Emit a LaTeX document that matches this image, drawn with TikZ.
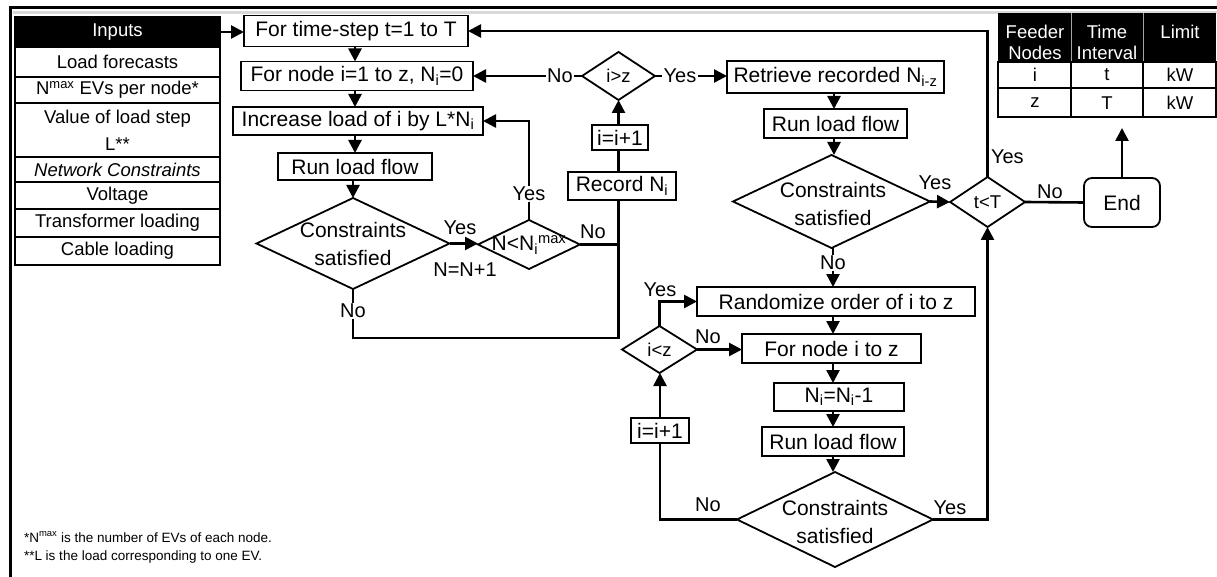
\documentclass[tikz,border=0pt]{standalone}
\usepackage{fontspec}
\setmainfont{Liberation Sans}
\usetikzlibrary{arrows.meta,shapes.geometric}

\begin{document}
\begin{tikzpicture}[x=1pt,y=-1pt,
  every node/.style={inner sep=0pt, outer sep=0pt},
  box/.style={draw, line width=1.8pt, fill=white, font=\fontsize{21}{26}\selectfont, align=center},
  dia/.style={diamond, draw, line width=1.8pt, fill=white},
  dtext/.style={font=\fontsize{21}{28}\selectfont, align=center},
  stext/.style={font=\fontsize{18.5}{22}\selectfont, align=center},
  lbl/.style={font=\fontsize{20}{24}\selectfont},
  onln/.style={lbl, fill=white, inner sep=1.5pt},
  conn/.style={line width=2.6pt},
  arr/.style={conn, -{Triangle[length=13pt,width=13pt]}},
  cell/.style={draw, line width=1.8pt, fill=white, font=\fontsize{18.5}{27}\selectfont, align=center, minimum width=205pt},
]
\useasboundingbox (0,0) rectangle (1217,577);

% page frame
\draw[line width=3.5pt, gray!30] (13,12.5) -- (1217,12.5);
\draw[line width=3pt] (10.5,577) -- (10.5,7.5) -- (1217,7.5);

% inputs list
\node[cell, fill=black, text=white, minimum height=30pt] (inh) at (117.5,32) {Inputs};
\node[cell, minimum height=30pt] (in1) at (117.5,62) {Load forecasts};
\node[cell, minimum height=26pt] (in2) at (117.5,90) {N\textsuperscript{max} EVs per node*};
\node[cell, minimum height=54pt] (in3) at (117.5,130) {Value of load step\\L**};
\node[cell, minimum height=25pt] (in4) at (117.5,169.5) {\itshape Network Constraints};
\node[cell, minimum height=27pt] (in5) at (117.5,195.5) {Voltage};
\node[cell, minimum height=28pt] (in6) at (117.5,223) {Transformer loading};
\node[cell, minimum height=28pt] (in7) at (117.5,251) {Cable loading};

% result table
\fill (998,13) rectangle (1216,62);
\draw[gray!70, line width=0.8pt] (1071,13) -- (1071,62) (1143,13) -- (1143,62);
\draw[line width=1.8pt] (998,62) rectangle (1216,117) (998,88) -- (1216,88)
  (1071,62) -- (1071,117) (1143,62) -- (1143,117);
\node[stext, text=white, font=\fontsize{18.5}{21}\selectfont] (th1) at (1035,42.5) {Feeder\\Nodes};
\node[stext, text=white, font=\fontsize{18.5}{21}\selectfont] (th2) at (1107,42.5) {Time\\Interval};
\node[stext, text=white] (th3) at (1180,32) {Limit};
\node[stext] (tc11) at (1035,75) {i};
\node[stext] (tc12) at (1107,75) {t};
\node[stext] (tc13) at (1180,75) {kW};
\node[stext] (tc21) at (1035,103) {z};
\node[stext] (tc22) at (1107,103) {T};
\node[stext] (tc23) at (1180,103) {kW};

% main loop
\node[box, minimum width=224pt, minimum height=31pt] (b1) at (356,31) {For time-step t=1 to T};
\node[box, minimum width=232pt, minimum height=29pt] (b2) at (357,76) {For node i=1 to z, N\textsubscript{i}=0};
\node[box, minimum width=250pt, minimum height=28pt] (b3) at (358,121) {Increase load of i by L*N\textsubscript{i}};
\node[box, minimum width=154pt, minimum height=27pt] (b4) at (355,166.5) {Run load flow};
\node[dia, minimum width=193pt, minimum height=91pt] (d1) at (353,243.5) {};
\node[dtext] at (d1) {Constraints\\satisfied};
\node[dia, minimum width=102pt, minimum height=49pt] (d2) at (529,244.5) {};
\node[dtext] at (529,245) {N<N\textsubscript{i}\textsuperscript{max}};

\node[box, minimum width=108pt, minimum height=28pt] (rec) at (622,186) {Record N\textsubscript{i}};
\node[box, minimum width=56pt, minimum height=25pt] (inc1) at (620,137.5) {i=i+1};
\node[dia, minimum width=73pt, minimum height=48pt] (d3) at (618.5,76) {};
\node[stext] at (d3) {i>z};

\node[box, minimum width=217pt, minimum height=32pt] (b5) at (835.5,77) {Retrieve recorded N\textsubscript{i-z}};
\node[box, minimum width=143pt, minimum height=29pt] (b6) at (835.5,123.5) {Run load flow};
\node[dia, minimum width=197pt, minimum height=93pt] (d4) at (831.5,201.5) {};
\node[dtext] at (833,204) {Constraints\\satisfied};
\node[dia, minimum width=75pt, minimum height=50pt] (dt) at (987.5,202) {};
\node[stext] at (dt) {t<T};
\node[draw, line width=1.8pt, rounded corners=8pt, minimum width=76pt, minimum height=49pt, font=\fontsize{21}{26}\selectfont] (end) at (1122,202.5) {End};

% reduction loop
\node[box, minimum width=278pt, minimum height=29pt] (b7) at (836,301.5) {Randomize order of i to z};
\node[box, minimum width=179pt, minimum height=29pt] (b8) at (831.5,348.5) {For node i to z};
\node[box, minimum width=130pt, minimum height=28pt] (b9) at (839,397) {N\textsubscript{i}=N\textsubscript{i}-1};
\node[box, minimum width=142pt, minimum height=29pt] (b10) at (833,441.5) {Run load flow};
\node[dia, minimum width=196pt, minimum height=95pt] (d5) at (835,519.5) {};
\node[dtext] at (835,522) {Constraints\\satisfied};
\node[box, minimum width=58pt, minimum height=25pt] (inc2) at (660,430.5) {i=i+1};
\node[dia, minimum width=75pt, minimum height=47pt] (dz) at (659.5,349.5) {};
\node[stext] at (dz) {i<z};

% notes
\node[anchor=west, font=\fontsize{13.5}{16}\selectfont] (n1) at (24,537) {*N\textsuperscript{max} is the number of EVs of each node.};
\node[anchor=west, font=\fontsize{13.5}{16}\selectfont] (n2) at (24,557) {**L is the load corresponding to one EV.};

% connectors: main loop
\coordinate (j) at (618.5,338);
\draw[arr] (inh.east) -- (inh.east -| b1.west);
\draw[arr] (b1.south -| b4) -- (b2.north -| b4);
\draw[arr] (b2.south -| b4) -- (b3.north -| b4);
\draw[arr] (b3.south -| b4) -- (b4.north);
\draw[arr] (b4.south -| d1) -- (d1.north);
\draw[arr] (d1.east) -- (d1.east -| d2.west);
\node[lbl] at (460,228) {Yes};
\node[lbl] at (465,270) {N=N+1};
\draw[arr] (d2.north) -- (d2.north |- b3.east) -- (b3.east);
\node[onln] at (529,194) {Yes};
\draw[conn] (d2.east) -- (d2.east -| j);
\node[lbl] at (593,232) {No};
\draw[conn] (d1.south) |- (j) -- (j |- rec.south);
\node[onln] at (353,311) {No};
\draw[conn] (j |- rec.north) -- (j |- inc1.south);
\draw[arr] (j |- inc1.north) -- (d3.south);
\draw[arr] (d3.west) -- (d3.west -| b2.east);
\node[onln] at (560,76) {No};
\draw[arr] (d3.east) -- (d3.east -| b5.west);
\node[onln] at (680,76) {Yes};
\draw[arr] (b5.south -| 834,0) -- (b6.north -| 834,0);
\draw[arr] (b6.south -| 834,0) -- (d4.north -| 834,0);
\draw[arr] (d4.east) -- (dt.west);
\node[lbl] at (935,183) {Yes};
\draw[arr] (dt.north) |- (b1.east);
\node[lbl, anchor=west] at (991,157) {Yes};
\draw[conn] (dt.east) -- (end.west);
\node[lbl] at (1050,192) {No};
\draw[arr] (end.north) -- (1122,128);

% connectors: reduction loop
\draw[arr] (d4.south -| b10) -- (b7.north -| b10);
\node[onln] at (833,263) {No};
\draw[arr] (b7.south -| b10) -- (b8.north -| b10);
\draw[arr] (b8.south -| b10) -- (b9.north -| b10);
\draw[arr] (b9.south -| b10) -- (b10.north);
\draw[arr] (b10.south) -- (b10.south |- d5.north);
\draw[arr] (d5.east) -| (dt.south);
\node[lbl] at (950,508) {Yes};
\draw[conn] (d5.west) -| (inc2.south);
\node[lbl] at (708,505) {No};
\draw[arr] (inc2.north) -- (inc2.north |- dz.south);
\draw[arr] (dz.north) |- (b7.west);
\node[lbl] at (660,290) {Yes};
\draw[arr] (dz.east) -- (dz.east -| b8.west);
\node[lbl] at (708,337) {No};
\end{tikzpicture}
\end{document}
